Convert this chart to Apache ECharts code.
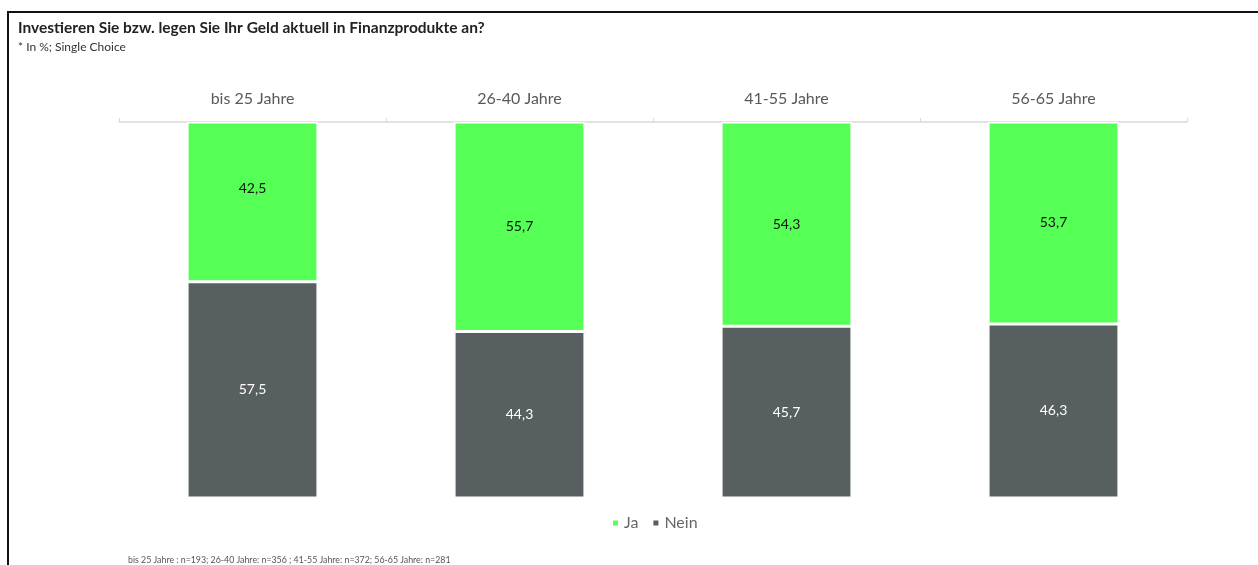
<!DOCTYPE html>
<html>
<head>
<meta charset="utf-8">
<script src="https://cdn.jsdelivr.net/npm/echarts@6/dist/echarts.min.js"></script>
<style>
    html, body { margin: 0; padding: 0; background: #fff; }
    #chart { position: absolute; left: 0; top: 0; width: 1258px; height: 565px; }
    .frame { position: absolute; left: 7px; top: 11px; width: 1251px; height: 554px;
        border-top: 2px solid #111; border-left: 2px solid #111; pointer-events: none; }
</style>
</head>
<body>
<div id="chart"></div>
<div class="frame"></div>
<script>
// 数据
const categories = ['bis 25 Jahre', '26-40 Jahre', '41-55 Jahre', '56-65 Jahre'];
const jaValues = [42.5, 55.7, 54.3, 53.7];
const neinValues = [57.5, 44.3, 45.7, 46.3];
const seriesNames = ['Ja', 'Nein'];
const footnote = 'bis 25 Jahre : n=193; 26-40 Jahre: n=356 ; 41-55 Jahre: n=372; 56-65 Jahre: n=281';

const font = 'Lato';
const chart = echarts.init(document.getElementById('chart'));

const fmt = (p) => p.value.toFixed(1).replace('.', ',');

const option = {
    animation: false,
    textStyle: { fontFamily: font },
    title: [
        {
            text: 'Investieren Sie bzw. legen Sie Ihr Geld aktuell in Finanzprodukte an?',
            subtext: '* In %; Single Choice',
            left: 13,
            top: 15,
            itemGap: 5,
            textStyle: { fontFamily: font, fontSize: 15.5, fontWeight: 'bold', color: '#222' },
            subtextStyle: { fontFamily: font, fontSize: 12, color: '#333' },
        },
        {
            text: footnote,
            left: 123,
            top: 551,
            textStyle: { fontFamily: font, fontSize: 8.8, fontWeight: 'normal', color: '#555' },
        },
    ],
    legend: {
        data: seriesNames,
        left: 606,
        top: 510,
        icon: 'rect',
        itemWidth: 7,
        itemHeight: 7,
        itemGap: 13,
        textStyle: { fontFamily: font, fontSize: 16, color: '#666' },
    },
    grid: {
        left: 119,
        right: 71,
        top: 122,
        bottom: 67,
    },
    xAxis: {
        type: 'category',
        position: 'top',
        data: categories,
        axisLine: { lineStyle: { color: '#d9d9d9', width: 1.5 } },
        axisTick: { show: true, length: 4, lineStyle: { color: '#d9d9d9' } },
        axisLabel: { fontFamily: font, fontSize: 16, color: '#595959', margin: 15 },
    },
    yAxis: {
        type: 'value',
        inverse: true,
        min: 0,
        max: 100,
        show: false,
        splitLine: { show: false },
    },
    series: [
        {
            name: 'Ja',
            type: 'bar',
            stack: 'total',
            // erstes Label sitzt im Original etwas höher
            data: jaValues.map((v, i) => (i === 0 ? { value: v, label: { offset: [0, -13] } } : v)),
            barWidth: '49%',
            itemStyle: { color: '#55ff55', borderColor: '#fff', borderWidth: 1.5 },
            label: {
                show: true,
                position: 'inside',
                fontFamily: font,
                fontSize: 14,
                color: '#111',
                formatter: fmt,
            },
        },
        {
            name: 'Nein',
            type: 'bar',
            stack: 'total',
            data: neinValues,
            barWidth: '49%',
            itemStyle: { color: '#575f61', borderColor: '#fff', borderWidth: 1.5 },
            label: {
                show: true,
                position: 'inside',
                fontFamily: font,
                fontSize: 14,
                color: '#fff',
                formatter: fmt,
            },
        },
    ],
};

chart.setOption(option);
</script>
</body>
</html>
